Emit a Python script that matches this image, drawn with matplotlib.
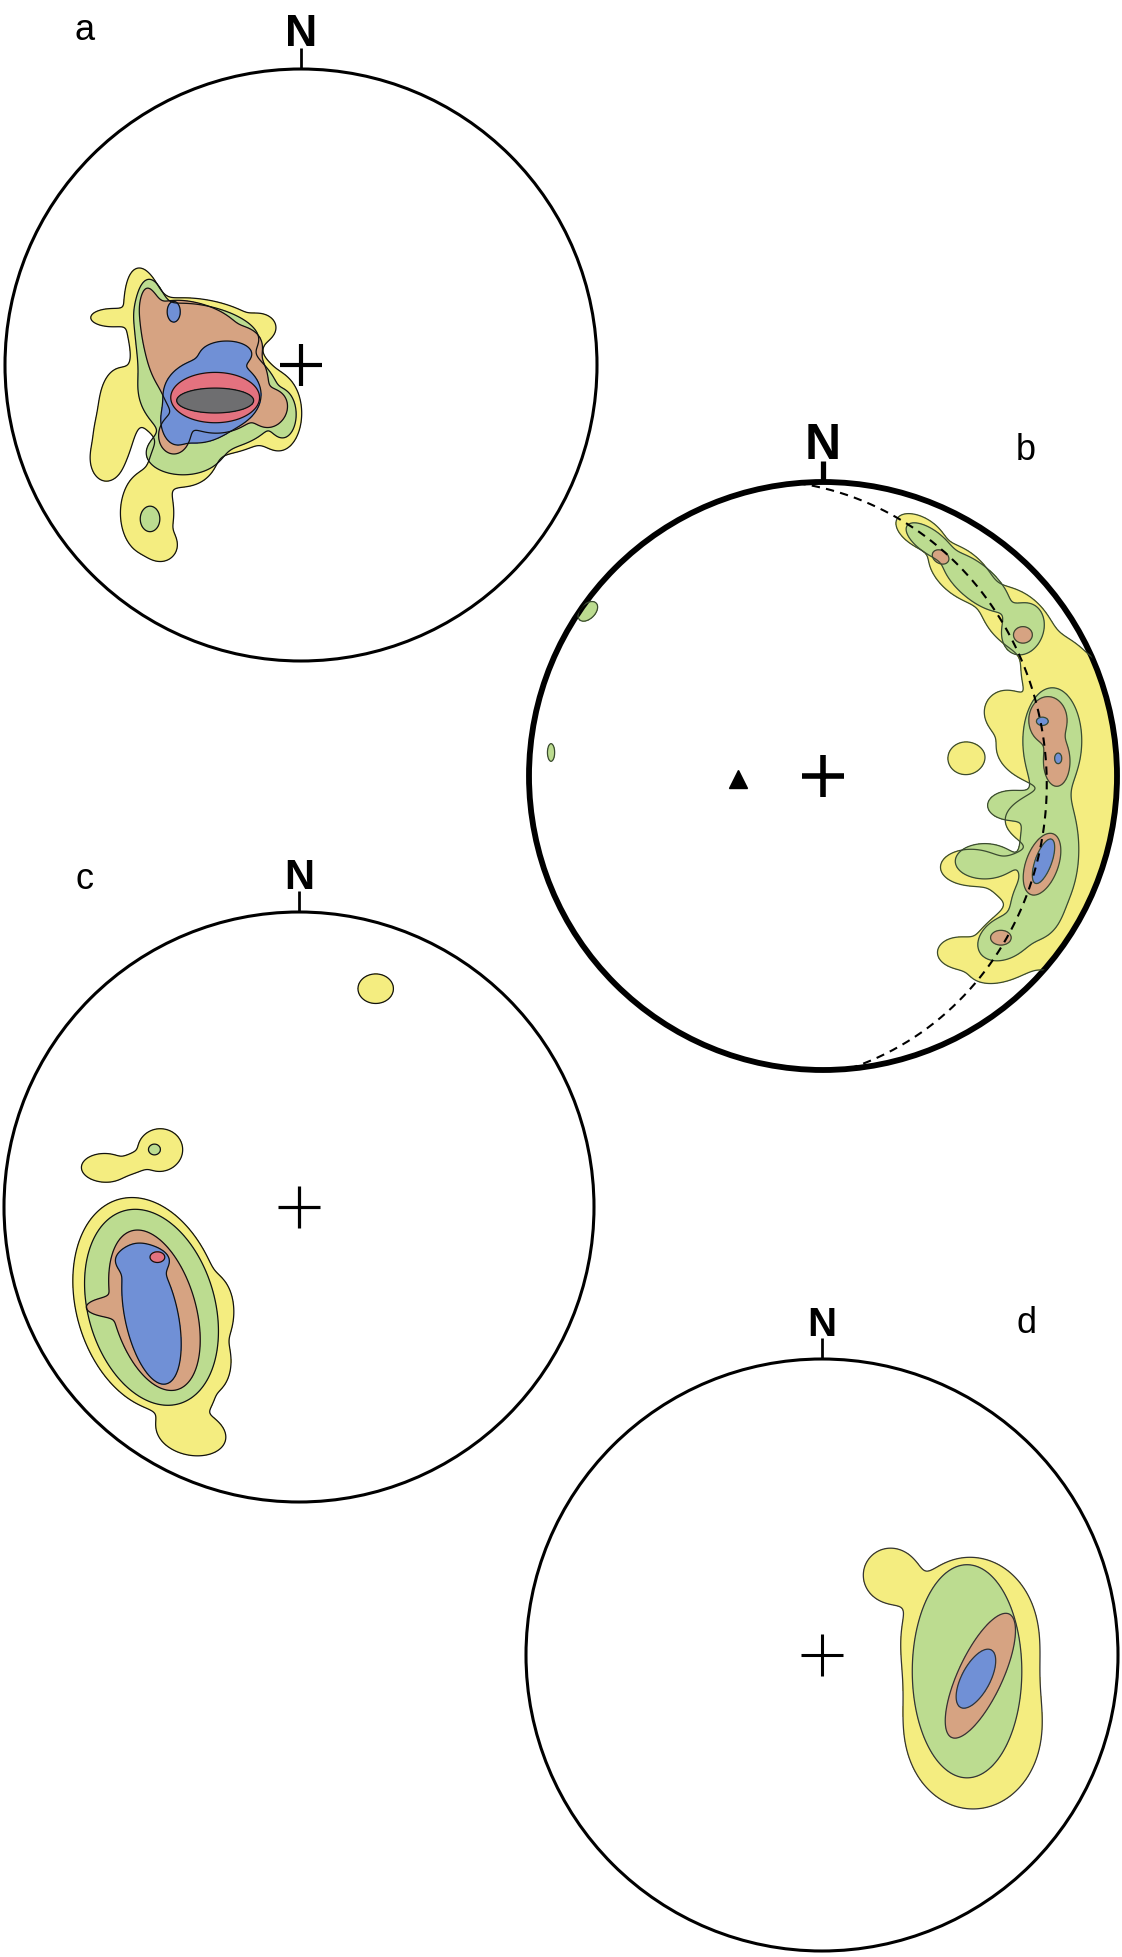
import numpy as np
import matplotlib
matplotlib.use("Agg")
import matplotlib.pyplot as plt
from matplotlib.patches import Circle

plt.rcParams['font.family'] = ['Liberation Sans', 'DejaVu Sans']

FIG_W, FIG_H = 1122, 1958

# ---------------- data (unit-circle stereonet coordinates, x=E, y=N) ----------------
# each density zone is given as concentration ellipses: (x, y, rx, ry, angle_deg)
LEVEL_NAMES = ["1%", "2%", "3%", "4%", "5%", "6%"]
LEVEL_COLORS = ["#f4ed80", "#bcdc90", "#d6a382", "#7090d6", "#e4727f", "#6e6e70"]

# diagram a
A_YELLOW = [(-0.52, 0.15, 0.07, 0.18, 10), (-0.33, 0.14, 0.20, 0.08, -10), (-0.32, -0.10, 0.27, 0.20, -10),
            (-0.07, -0.17, 0.065, 0.11, 0), (-0.14, 0.13, 0.05, 0.04, 0), (-0.62, -0.15, 0.06, 0.12, 0),
            (-0.66, -0.32, 0.05, 0.07, 0), (-0.64, 0.16, 0.07, 0.03, 0), (-0.52, -0.50, 0.09, 0.14, 0),
            (-0.40, -0.33, 0.10, 0.08, 0), (-0.64, -0.25, 0.06, 0.10, 0), (-0.47, -0.61, 0.05, 0.05, 0)]
A_GREEN = [(-0.50, 0.12, 0.06, 0.17, 5), (-0.33, 0.13, 0.18, 0.07, -12), (-0.31, -0.10, 0.24, 0.18, -10),
           (-0.06, -0.17, 0.04, 0.07, 0), (-0.40, -0.30, 0.12, 0.07, 0), (-0.51, -0.52, 0.033, 0.043, 0)]
A_BROWN = [(-0.50, 0.12, 0.04, 0.14, 8), (-0.36, 0.15, 0.14, 0.06, -15), (-0.29, -0.06, 0.18, 0.17, -10),
           (-0.10, -0.15, 0.05, 0.06, -30), (-0.43, -0.24, 0.05, 0.06, 0), (-0.20, 0.07, 0.06, 0.05, 0),
           (-0.44, 0.04, 0.06, 0.09, 0)]
A_BLUE = [(-0.30, -0.10, 0.165, 0.125, 0), (-0.25, 0.04, 0.08, 0.04, 0), (-0.42, -0.21, 0.04, 0.055, 0),
          (-0.36, -0.19, 0.10, 0.07, 0), (-0.43, 0.18, 0.022, 0.035, 0)]
A_PINK = [(-0.29, -0.11, 0.15, 0.085, 0)]
A_GRAY = [(-0.29, -0.12, 0.13, 0.042, 0)]

# diagram b
B_YELLOW = [(0.33, 0.83, 0.09, 0.05, -30), (0.47, 0.69, 0.13, 0.075, -40), (0.66, 0.53, 0.14, 0.09, -40),
            (0.80, 0.34, 0.14, 0.12, -60), (0.78, 0.10, 0.19, 0.13, 0), (0.62, 0.22, 0.07, 0.07, 0),
            (0.82, -0.15, 0.20, 0.10, 0), (0.78, -0.35, 0.22, 0.10, 0), (0.50, -0.31, 0.10, 0.06, 0),
            (0.66, -0.56, 0.20, 0.11, 35), (0.46, -0.60, 0.07, 0.05, 0), (0.485, 0.06, 0.06, 0.055, 0),
            (0.93, 0.22, 0.08, 0.15, 0), (0.95, -0.05, 0.07, 0.20, 0), (0.90, -0.36, 0.08, 0.20, 0),
            (0.80, -0.56, 0.10, 0.10, 0)]
B_GREEN = [(0.36, 0.80, 0.09, 0.04, -35), (0.52, 0.66, 0.14, 0.06, -40), (0.68, 0.50, 0.07, 0.09, -20),
           (0.78, 0.12, 0.10, 0.18, 0), (0.77, -0.25, 0.10, 0.22, 0), (0.64, -0.10, 0.08, 0.05, 0),
           (0.55, -0.29, 0.10, 0.06, 0), (0.62, -0.55, 0.10, 0.07, 30), (0.72, -0.45, 0.08, 0.10, 0),
           (-0.925, 0.08, 0.012, 0.03, 0), (-0.80, 0.56, 0.04, 0.025, 45)]
B_BROWN = [(0.40, 0.745, 0.03, 0.022, -30), (0.68, 0.48, 0.032, 0.028, 0), (0.765, 0.19, 0.065, 0.08, 0),
           (0.795, 0.05, 0.045, 0.085, 0), (0.745, -0.30, 0.11, 0.055, 70), (0.605, -0.55, 0.035, 0.025, 0)]
B_BLUE = [(0.746, 0.186, 0.02, 0.014, 0), (0.80, 0.06, 0.012, 0.018, 0), (0.75, -0.29, 0.08, 0.028, 70)]
B_POLE = (-0.29, -0.01)          # pole to fitted girdle (triangle)
GC_DIP_DIR, GC_DIP = 85.0, 25.0  # fitted girdle great circle

# diagram c
C_YELLOW = [(0.26, 0.74, 0.06, 0.05, 0), (-0.66, 0.135, 0.075, 0.045, 0), (-0.47, 0.195, 0.075, 0.07, 0),
            (-0.56, 0.15, 0.06, 0.03, 20), (-0.51, -0.33, 0.245, 0.37, 16), (-0.36, -0.77, 0.11, 0.07, -10),
            (-0.28, -0.35, 0.05, 0.09, 0), (-0.29, -0.53, 0.05, 0.08, 0), (-0.36, -0.64, 0.06, 0.06, 0)]
C_GREEN = [(-0.50, -0.34, 0.215, 0.34, 16), (-0.49, 0.195, 0.02, 0.018, 0)]
C_BROWN = [(-0.49, -0.35, 0.14, 0.28, 16), (-0.64, -0.34, 0.08, 0.03, 0)]
C_BLUE = [(-0.50, -0.37, 0.09, 0.235, 12), (-0.53, -0.18, 0.085, 0.045, 0)]
C_PINK = [(-0.48, -0.17, 0.025, 0.018, 0)]

# diagram d
D_YELLOW = [(0.23, 0.27, 0.09, 0.09, 0), (0.50, 0.06, 0.23, 0.27, 0), (0.51, -0.25, 0.23, 0.27, 0)]
D_GREEN = [(0.49, -0.055, 0.185, 0.36, 0)]
D_BROWN = [(0.535, -0.07, 0.23, 0.075, 65)]
D_BLUE = [(0.52, -0.08, 0.11, 0.048, 62)]

# ---------------- layout (pixels) ----------------
NET_CX = [301, 823, 299, 822]
NET_CY = [366, 777, 1208, 1656]
NET_R = [296, 294, 295, 296]
NET_LABELS = ["a", "b", "c", "d"]
NET_LEVELS = [[A_YELLOW, A_GREEN, A_BROWN, A_BLUE, A_PINK, A_GRAY],
              [B_YELLOW, B_GREEN, B_BROWN, B_BLUE],
              [C_YELLOW, C_GREEN, C_BROWN, C_BLUE, C_PINK],
              [D_YELLOW, D_GREEN, D_BROWN, D_BLUE]]
LABEL_PX = [(85, 40), (1026, 460), (85, 889), (1026, 1333)]
N_SIZE = [32, 36, 30, 29]
CIRCLE_LW = [2.2, 4.2, 2.2, 2.2]
PLUS_MEW = [3.0, 4.0, 2.3, 2.2]
LINE_COLORS = ["#111111", "#3a4a30", "#111111", "#333333"]

L = 1.03
g = np.linspace(-L, L, 700)
X, Y = np.meshgrid(g, g)


def density(blobs, k=2.0):
    f = np.zeros_like(X)
    for (cx, cy, rx, ry, ang) in blobs:
        a = np.radians(ang)
        dx, dy = X - cx, Y - cy
        u = dx * np.cos(a) + dy * np.sin(a)
        v = -dx * np.sin(a) + dy * np.cos(a)
        q2 = (u / rx) ** 2 + (v / ry) ** 2
        f += np.exp(np.clip(k * (1.0 - q2), -50, 50))
    return f


fig = plt.figure(figsize=(FIG_W / 100, FIG_H / 100), dpi=100)
fig.patch.set_facecolor("white")

for i in range(4):
    cx, cy, r = NET_CX[i], NET_CY[i], NET_R[i]
    ax = fig.add_axes([(cx - r * L) / FIG_W, 1 - (cy + r * L) / FIG_H, 2 * r * L / FIG_W, 2 * r * L / FIG_H])
    ax.set_xlim(-L, L)
    ax.set_ylim(-L, L)
    ax.set_aspect("equal")
    ax.axis("off")
    ax.patch.set_visible(False)
    clip = Circle((0, 0), 1.0, transform=ax.transData)
    for blobs, color in zip(NET_LEVELS[i], LEVEL_COLORS):
        f = density(blobs)
        cf = ax.contourf(X, Y, f, levels=[1.0, f.max() + 1.0], colors=[color])
        cf.set_clip_path(clip)
        cl = ax.contour(X, Y, f, levels=[1.0], colors=[LINE_COLORS[i]], linewidths=0.9)
        cl.set_clip_path(clip)
    if i == 1:
        t = np.linspace(0, np.pi, 300)
        dd, dp = np.radians(GC_DIP_DIR), np.radians(GC_DIP)
        s = np.array([np.sin(dd - np.pi / 2), np.cos(dd - np.pi / 2), 0.0])
        dv = np.array([np.sin(dd) * np.cos(dp), np.cos(dd) * np.cos(dp), np.sin(dp)])
        vec = np.outer(np.cos(t), s) + np.outer(np.sin(t), dv)
        plunge = np.arcsin(np.clip(vec[:, 2], -1, 1))
        trend = np.arctan2(vec[:, 0], vec[:, 1])
        R = np.sqrt(2) * np.sin((np.pi / 2 - plunge) / 2)
        ax.plot(R * np.sin(trend), R * np.cos(trend), color="k", lw=1.5, ls=(0, (4, 3)))
        ax.plot(B_POLE[0], B_POLE[1], marker="^", ms=13, color="k", mec="k")
    ax.add_patch(Circle((0, 0), 1.0, fill=False, lw=CIRCLE_LW[i], ec="k"))
    ax.plot([0, 0], [1.0, 1.0 + 21 / r], color="k", lw=CIRCLE_LW[i] * 0.9, solid_capstyle="butt", clip_on=False)
    ax.text(0, 1.0 + 24 / r, "N", ha="center", va="baseline", fontsize=N_SIZE[i], fontweight="bold")
    ax.plot(0, 0, marker="+", ms=30, mew=PLUS_MEW[i], color="k")
    lx, ly = LABEL_PX[i]
    ax.text((lx - cx) / r, (cy - ly) / r, NET_LABELS[i], ha="center", va="baseline", fontsize=26)

fig.savefig("out.png", dpi=100, facecolor="white")
